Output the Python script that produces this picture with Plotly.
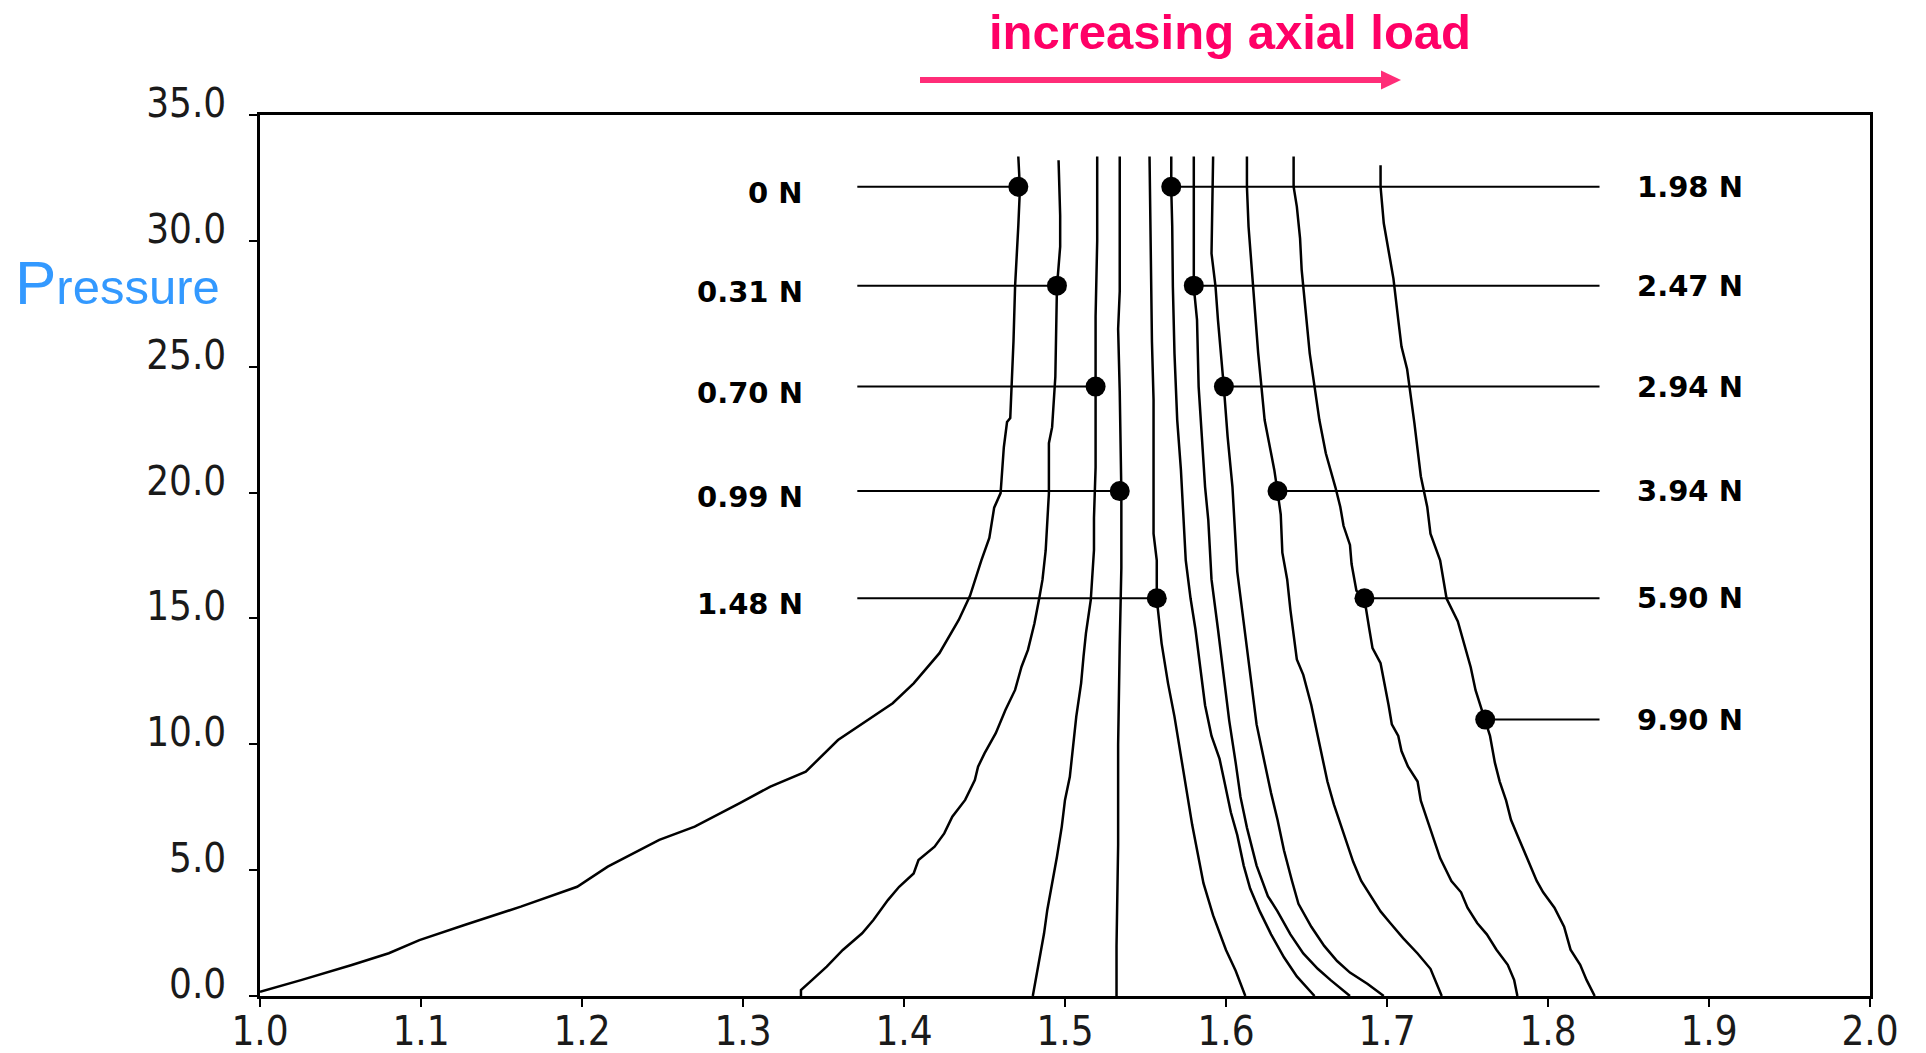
import plotly.graph_objects as go

# ---- data: contact pressure vs. position for each axial load ----
load_labels = ["0 N", "0.31 N", "0.70 N", "0.99 N", "1.48 N",
               "1.98 N", "2.47 N", "2.94 N", "3.94 N", "5.90 N", "9.90 N"]

curve_x = [
    [1.471, 1.472, 1.471, 1.470, 1.469, 1.468, 1.467, 1.466, 1.464, 1.462, 1.460, 1.456, 1.453, 1.448,
     1.441, 1.434, 1.422, 1.406, 1.393, 1.374, 1.359, 1.339, 1.317, 1.298, 1.270, 1.248, 1.216, 1.197,
     1.162, 1.127, 1.099, 1.080, 1.057, 1.026, 1.000],
    [1.496, 1.497, 1.497, 1.495, 1.494, 1.492, 1.490, 1.490, 1.488, 1.486, 1.484, 1.481, 1.477, 1.473,
     1.469, 1.463, 1.457, 1.450, 1.446, 1.444, 1.438, 1.430, 1.425, 1.419, 1.409, 1.406, 1.397, 1.390,
     1.381, 1.374, 1.362, 1.352, 1.343, 1.336, 1.336],
    [1.520, 1.520, 1.519, 1.519, 1.519, 1.518, 1.518, 1.516, 1.513, 1.5115, 1.510, 1.507, 1.505, 1.503,
     1.500, 1.498, 1.495, 1.492, 1.489, 1.487, 1.484, 1.481, 1.480],
    [1.534, 1.534, 1.533, 1.534, 1.535, 1.535, 1.534, 1.533, 1.533, 1.532, 1.532],
    [1.5525, 1.553, 1.554, 1.555, 1.555, 1.555, 1.557, 1.557, 1.560, 1.564, 1.568, 1.572, 1.575, 1.579,
     1.586, 1.592, 1.600, 1.606, 1.612],
    [1.566, 1.566, 1.5666, 1.567, 1.568, 1.5697, 1.572, 1.5738, 1.575, 1.578, 1.581, 1.584, 1.587, 1.591,
     1.596, 1.599, 1.603, 1.607, 1.611, 1.615, 1.621, 1.628, 1.636, 1.644, 1.655],
    [1.580, 1.580, 1.580, 1.582, 1.583, 1.585, 1.587, 1.589, 1.591, 1.595, 1.598, 1.602, 1.606, 1.609,
     1.613, 1.619, 1.626, 1.632, 1.640, 1.648, 1.657, 1.665, 1.677],
    [1.592, 1.591, 1.5935, 1.595, 1.5987, 1.601, 1.604, 1.605, 1.607, 1.610, 1.613, 1.616, 1.619, 1.624,
     1.628, 1.632, 1.636, 1.641, 1.645, 1.653, 1.661, 1.669, 1.677, 1.688, 1.698],
    [1.613, 1.613, 1.614, 1.616, 1.618, 1.620, 1.622, 1.624, 1.628, 1.630, 1.632, 1.634, 1.635, 1.638,
     1.640, 1.642, 1.644, 1.648, 1.653, 1.657, 1.660, 1.663, 1.667, 1.671, 1.675, 1.679, 1.684, 1.690,
     1.696, 1.702, 1.710, 1.719, 1.727, 1.734],
    [1.642, 1.642, 1.644, 1.646, 1.647, 1.648, 1.650, 1.652, 1.655, 1.658, 1.662, 1.665, 1.668, 1.671,
     1.673, 1.677, 1.678, 1.681, 1.686, 1.689, 1.691, 1.696, 1.698, 1.701, 1.703, 1.707, 1.709, 1.713,
     1.719, 1.721, 1.725, 1.729, 1.733, 1.740, 1.746, 1.750, 1.756, 1.762, 1.768, 1.775, 1.779, 1.781],
    [1.696, 1.696, 1.698, 1.700, 1.702, 1.704, 1.707, 1.709, 1.7125, 1.715, 1.717, 1.719, 1.721, 1.725,
     1.727, 1.733, 1.737, 1.744, 1.749, 1.752, 1.755, 1.761, 1.764, 1.767, 1.770, 1.774, 1.777, 1.781,
     1.785, 1.789, 1.793, 1.797, 1.804, 1.810, 1.814, 1.820, 1.824, 1.829],
]

curve_y = [
    [33.35, 32.07, 30.6, 29.6, 28.2, 26.0, 24.2, 22.96, 22.8, 21.8, 19.98, 19.4, 18.2, 17.3,
     15.9, 14.94, 13.62, 12.42, 11.63, 10.83, 10.17, 8.91, 8.32, 7.66, 6.73, 6.20, 5.14, 4.34,
     3.55, 2.82, 2.22, 1.70, 1.23, 0.64, 0.17],
    [33.2, 31.0, 29.77, 28.17, 24.6, 22.6, 21.96, 19.97, 17.7, 16.53, 15.8, 14.8, 13.75, 13.08,
     12.16, 11.36, 10.44, 9.64, 9.11, 8.58, 7.79, 7.12, 6.46, 5.93, 5.40, 4.87, 4.34, 3.81,
     3.02, 2.49, 1.83, 1.17, 0.64, 0.24, 0.0],
    [33.35, 30.0, 27.0, 24.16, 21.0, 19.0, 17.72, 15.73, 14.41, 13.48, 12.42, 11.10, 9.77, 8.71,
     7.79, 6.73, 5.53, 4.48, 3.42, 2.49, 1.43, 0.50, 0.0],
    [33.35, 28.0, 26.5, 24.0, 20.0, 17.0, 14.0, 10.0, 6.0, 2.0, 0.0],
    [33.35, 30.0, 26.0, 23.68, 20.0, 18.37, 17.31, 15.77, 14.01, 12.42, 11.10, 9.6, 8.3, 6.8,
     4.48, 3.2, 1.83, 1.0, 0.0],
    [33.35, 32.07, 30.57, 28.18, 25.53, 22.88, 20.9, 18.9, 17.31, 15.79, 14.58, 13.06, 11.55, 10.33,
     9.42, 8.52, 7.30, 6.39, 5.18, 4.27, 3.36, 2.45, 1.54, 0.78, 0.0],
    [33.35, 30.5, 28.17, 26.86, 24.21, 22.22, 20.23, 18.91, 16.55, 14.58, 13.06, 10.94, 9.27, 7.91,
     6.69, 5.18, 3.97, 3.36, 2.45, 1.69, 1.08, 0.63, 0.0],
    [33.35, 29.5, 28.18, 26.86, 24.16, 22.22, 20.23, 18.91, 16.86, 15.34, 13.82, 12.31, 10.79, 9.27,
     8.06, 7.0, 5.79, 4.57, 3.66, 2.75, 1.99, 1.39, 0.93, 0.48, 0.0],
    [33.35, 32.15, 30.57, 28.85, 26.86, 25.53, 24.21, 22.88, 21.56, 20.9, 20.04, 19.13, 17.61, 16.55,
     15.34, 14.28, 13.37, 12.76, 11.55, 10.33, 9.42, 8.52, 7.61, 6.85, 6.09, 5.33, 4.57, 3.97,
     3.36, 2.90, 2.30, 1.69, 1.08, 0.0],
    [33.35, 32.15, 31.36, 30.1, 28.85, 28.18, 26.86, 25.53, 24.21, 22.88, 21.56, 20.9, 20.2, 19.43,
     18.68, 17.92, 17.16, 16.10, 15.77, 14.58, 13.82, 13.22, 12.61, 11.55, 10.79, 10.33, 9.73, 9.12,
     8.52, 7.76, 7.0, 6.24, 5.48, 4.57, 4.12, 3.51, 2.90, 2.45, 1.84, 1.24, 0.63, 0.0],
    [33.0, 32.15, 30.7, 30.0, 29.2, 28.5, 26.86, 25.8, 24.9, 23.8, 22.77, 21.71, 20.65, 19.43,
     18.37, 17.31, 15.79, 14.88, 13.67, 13.06, 12.15, 10.98, 10.33, 9.27, 8.52, 7.76, 7.0, 6.39,
     5.79, 5.18, 4.57, 4.12, 3.51, 2.75, 1.84, 1.24, 0.63, 0.0],
]

# marked point on each curve and the side its label sits on
dot_x = [1.471, 1.495, 1.519, 1.534, 1.557, 1.566, 1.580, 1.5987, 1.632, 1.686, 1.761]
dot_y = [32.15, 28.22, 24.21, 20.06, 15.80, 32.15, 28.22, 24.21, 20.06, 15.80, 10.98]
label_side = ["left"] * 5 + ["right"] * 6

x_ticks = [1.0, 1.1, 1.2, 1.3, 1.4, 1.5, 1.6, 1.7, 1.8, 1.9, 2.0]
y_ticks = [0, 5, 10, 15, 20, 25, 30, 35]

LEADER_LEFT_X = 1.371
LEADER_RIGHT_X = 1.832
LABEL_LEFT_X = 1.3388
LABEL_RIGHT_X = 1.8543

# ---- page geometry (pixels) ----
W, H = 1926, 1053
ML, MR, MT, MB = 260, 56, 115, 57
PW, PH = W - ML - MR, H - MT - MB


def paper_x(px):
    return (px - ML) / PW


def paper_y(py):
    return (H - MB - py) / PH


fig = go.Figure()

for cx, cy in zip(curve_x, curve_y):
    fig.add_trace(go.Scatter(x=cx, y=cy, mode="lines",
                             line=dict(color="black", width=2.5),
                             hoverinfo="skip", showlegend=False))

for dx, dy, side in zip(dot_x, dot_y, label_side):
    lx = [LEADER_LEFT_X, dx] if side == "left" else [dx, LEADER_RIGHT_X]
    fig.add_trace(go.Scatter(x=lx, y=[dy, dy], mode="lines",
                             line=dict(color="black", width=2),
                             hoverinfo="skip", showlegend=False))

fig.add_trace(go.Scatter(x=dot_x, y=dot_y, mode="markers",
                         marker=dict(color="black", size=20, line=dict(width=0)),
                         hoverinfo="skip", showlegend=False))

label_font = dict(family="DejaVu Sans", size=29, color="black", weight="bold")
annotations = []
for name, dy, side in zip(load_labels, dot_y, label_side):
    if side == "left":
        annotations.append(dict(x=LABEL_LEFT_X, y=dy, xref="x", yref="y", text=name,
                                showarrow=False, xanchor="right", yanchor="middle", yshift=-6,
                                font=label_font))
    else:
        annotations.append(dict(x=LABEL_RIGHT_X, y=dy, xref="x", yref="y", text=name,
                                showarrow=False, xanchor="left", yanchor="middle",
                                font=label_font))

# heading above the plot
annotations.append(dict(x=paper_x(1230), y=paper_y(32), xref="paper", yref="paper",
                        text="<b>increasing axial load</b>", showarrow=False,
                        xanchor="center", yanchor="middle",
                        font=dict(family="Liberation Sans, Arial", size=49, color="#FF0066")))

# y-axis caption with enlarged initial
annotations.append(dict(x=paper_x(13), y=paper_y(282), xref="paper", yref="paper",
                        text='<span style="font-size:62px">P</span>ressure', showarrow=False,
                        xanchor="left", yanchor="middle",
                        font=dict(family="Liberation Sans, Arial", size=49, color="#3399FF")))

arrow_color = "#FF2D78"
ay = 80
shapes = [
    dict(type="line", xref="paper", yref="paper",
         x0=paper_x(920), y0=paper_y(ay), x1=paper_x(1386), y1=paper_y(ay),
         line=dict(color=arrow_color, width=6)),
    dict(type="path", xref="paper", yref="paper",
         path=(f"M {paper_x(1381)},{paper_y(ay - 9.5)} L {paper_x(1401)},{paper_y(ay)} "
               f"L {paper_x(1381)},{paper_y(ay + 9.5)} Z"),
         fillcolor=arrow_color, line=dict(width=0)),
]

tick_font = dict(family="DejaVu Sans Condensed, DejaVu Sans", size=40, color="#1a1a1a")

fig.update_layout(
    width=W, height=H,
    margin=dict(l=ML, r=MR, t=MT, b=MB, pad=0),
    paper_bgcolor="white", plot_bgcolor="white",
    annotations=annotations, shapes=shapes,
    xaxis=dict(range=[1.0, 2.0], tickvals=x_ticks, tickformat=".1f", automargin=False,
               showgrid=False, zeroline=False, showline=True, linecolor="black",
               linewidth=2.5, mirror=True, ticks="outside", ticklen=8, tickwidth=2,
               tickcolor="black", tickfont=tick_font, ticklabelstandoff=-10),
    yaxis=dict(range=[0, 35], tickvals=y_ticks, tickformat=".1f", automargin=False,
               showgrid=False, zeroline=False, showline=True, linecolor="black",
               linewidth=2.5, mirror=True, ticks="outside", ticklen=8, tickwidth=2,
               tickcolor="black", tickfont=tick_font, ticklabelstandoff=15,
               ticklabelshift=-12),
)

fig.write_html("out.html")
